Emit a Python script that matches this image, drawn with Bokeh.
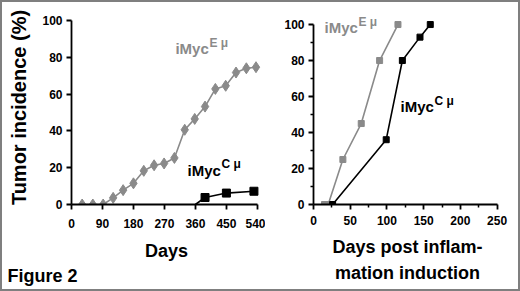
from bokeh.plotting import figure
from bokeh.layouts import row
from bokeh.models import FixedTicker, Title
from bokeh.core.properties import value
from bokeh.embed import file_html
from bokeh.resources import INLINE

# ---- data: left panel (days) ----
left_e_days = [31, 62, 92, 121, 150, 180, 210, 240, 269, 299, 329, 358, 388, 418, 448, 478, 508, 536]
left_e_pct = [0, 0, 0, 3.6, 7.8, 11.5, 18.3, 21.3, 22.3, 25.3, 40.6, 46.5, 53.2, 62.8, 64.5, 71.7, 74.0, 74.6]
left_c_days = [360, 388, 450, 530]
left_c_pct = [0, 3.8, 6.2, 7.2]

# ---- data: right panel (days post inflammation induction) ----
right_e_days = [15, 20, 40, 65, 90, 115]
right_e_pct = [0, 0, 25, 45, 80, 100]
right_c_days = [26, 99, 121, 145, 159]
right_c_pct = [0, 36, 80, 93, 100]

left_xticks = [0, 90, 180, 270, 360, 450, 540]
left_yticks = [0, 20, 40, 60, 80, 100]
right_xticks = [0, 50, 100, 150, 200, 250]
right_xminor = [25, 75, 125, 175, 225]
right_yticks = [0, 20, 40, 60, 80, 100]
right_yminor = [10, 30, 50, 70, 90]

# series label anchor points (data units)
left_label_x = [302, 337]
left_label_y = [84.5, 18.5]
right_label_x = [15, 118.5]
right_label_y = [98.3, 54.4]

GRAY = "#8a8a8a"
FONT = "Liberation Sans"


def style_axes(p, xt, yt, xminor=None, yminor=None):
    p.xgrid.visible = False
    p.ygrid.visible = False
    p.outline_line_color = None
    p.xaxis.ticker = FixedTicker(ticks=xt, minor_ticks=xminor or [])
    p.yaxis.ticker = FixedTicker(ticks=yt, minor_ticks=yminor or [])
    p.xaxis.bounds = (xt[0], xt[-1])
    p.yaxis.bounds = (yt[0], yt[-1])
    for ax in (p.xaxis[0], p.yaxis[0]):
        ax.axis_line_width = 1.8
        ax.axis_line_color = "black"
        ax.major_tick_line_width = 1.8
        ax.minor_tick_line_width = 1.5
        ax.major_tick_out = 5
        ax.major_tick_in = 0
        ax.minor_tick_out = 3 if (xminor or yminor) else 0
        ax.minor_tick_in = 0
        ax.major_label_text_font = FONT
        ax.major_label_text_font_style = "bold"
        ax.major_label_text_font_size = "12px"
        ax.major_label_text_color = "black"
        ax.axis_label_text_font = FONT
        ax.axis_label_text_font_style = "bold"
        ax.axis_label_text_font_size = "18px"
        ax.axis_label_text_color = "black"
    p.yaxis.major_label_standoff = 4


# ---------------- left panel ----------------
p1 = figure(width=263, height=287, x_range=(0, 552), y_range=(0, 105.4),
            output_backend="svg", toolbar_location=None,
            min_border_left=69, min_border_right=4, min_border_top=8, min_border_bottom=85)
style_axes(p1, left_xticks, left_yticks)
p1.xaxis.axis_label = "Days"
p1.yaxis.axis_label = "Tumor incidence (%)"
p1.yaxis.axis_label_text_font_size = "20px"
p1.xaxis.major_label_standoff = 9
p1.xaxis.axis_label_standoff = 10
p1.yaxis.axis_label_standoff = 9

p1.line(left_e_days, left_e_pct, line_color=GRAY, line_width=1.6)
p1.scatter(left_e_days, left_e_pct, marker="diamond", size=11, fill_color=GRAY, line_color=GRAY)
p1.line(left_c_days, left_c_pct, line_color="black", line_width=1.6)
p1.scatter(left_c_days[1:], left_c_pct[1:], marker="square", size=8, fill_color="black", line_color="black")

# ---------------- right panel ----------------
p2 = figure(width=253, height=287, x_range=(0, 256), y_range=(0, 107.8),
            output_backend="svg", toolbar_location=None,
            min_border_left=48, min_border_right=17, min_border_top=8, min_border_bottom=85)
style_axes(p2, right_xticks, right_yticks, right_xminor, right_yminor)
p2.xaxis.axis_label = "Days post inflam-\nmation induction"
p2.xaxis.axis_label_text_line_height = 1.33
p2.xaxis.major_label_standoff = 6
p2.xaxis.axis_label_standoff = 9

p2.line(right_e_days, right_e_pct, line_color=GRAY, line_width=1.6)
p2.scatter(right_e_days, right_e_pct, marker="square", size=6, fill_color=GRAY, line_color=GRAY)
p2.line(right_c_days, right_c_pct, line_color="black", line_width=1.6)
p2.scatter(right_c_days, right_c_pct, marker="square", size=6, fill_color="black", line_color="black")

# ---- series labels: "iMyc" + superscript ----
def series_label(p, x, y, sup, color):
    p.text([x], [y], text=["iMyc"], text_font=value(FONT), text_font_style="bold",
           text_font_size="15px", text_color=color, text_baseline="alphabetic")
    p.text([x], [y], text=[sup], text_font=value(FONT), text_font_style="bold",
           text_font_size="12px", text_color=color, text_baseline="alphabetic",
           x_offset=34, y_offset=-6)

series_label(p1, left_label_x[0], left_label_y[0], "E \u03bc", GRAY)
series_label(p1, left_label_x[1], left_label_y[1], "C \u03bc", "black")
series_label(p2, right_label_x[0], right_label_y[0], "E \u03bc", GRAY)
series_label(p2, right_label_x[1], right_label_y[1], "C \u03bc", "black")

fig_title = Title(text="Figure 2", align="left", offset=-64, standoff=1, text_font=FONT,
                  text_font_style="bold", text_font_size="18px", text_color="black")
p1.add_layout(fig_title, "below")

layout = row(p1, p2, styles={"border": "2px solid #7f7f7f", "background-color": "white"})

open("out.html", "w").write(file_html(layout, INLINE))
